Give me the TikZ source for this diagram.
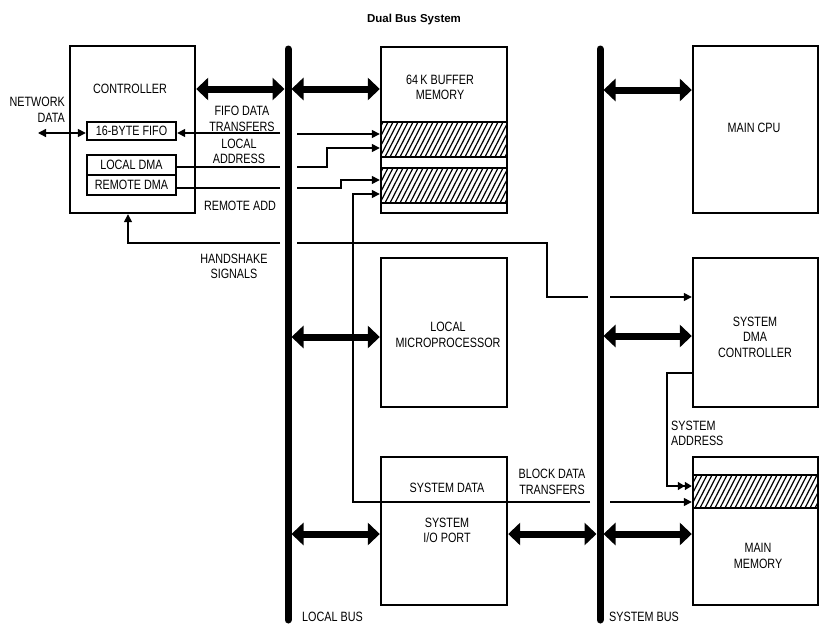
\documentclass[tikz,border=0pt]{standalone}
\usepackage{fontspec}
\newfontfamily\cnd[FakeStretch=0.8]{Liberation Sans}
\newfontfamily\ttl{Liberation Sans}
\usetikzlibrary{arrows.meta}
\begin{document}
\begin{tikzpicture}[x=1pt,y=-1pt,
  box/.style={draw, line width=2.4pt, inner sep=0pt},
  lbl/.style={font=\cnd\fontsize{13.5}{15.5}\selectfont, inner sep=0pt, align=center},
  thin/.style={line width=1.4pt},
  arr/.style={thin, -{Triangle[length=8pt,width=8pt]}},
  fat/.style={line width=7pt, {Triangle[length=12pt,width=22pt]}-{Triangle[length=12pt,width=22pt]}},
  bus/.style={line width=7pt, line cap=round},
  hatch/.style={line width=1.2pt}
]
\fill[white] (0,0) rectangle (825,624);
\useasboundingbox (0,0) rectangle (825,624);

% title
\node[font=\ttl\bfseries\fontsize{11.5}{14}\selectfont] (title) at (414,20) {Dual Bus System};

% hatching
\begin{scope}
\clip (381,122) rectangle (507,157);
\foreach \x in {330,335,...,510} \draw[hatch] (\x,157) -- ++(18,-35);
\end{scope}
\begin{scope}
\clip (381,168) rectangle (507,203);
\foreach \x in {330,335,...,510} \draw[hatch] (\x,203) -- ++(18,-35);
\end{scope}
\begin{scope}
\clip (693,475) rectangle (818,508);
\foreach \x in {640,645,...,820} \draw[hatch] (\x,508) -- ++(17,-33);
\end{scope}

% boxes
\node[box, minimum width=125pt, minimum height=167pt] (ctrl) at (132.5,129.5) {};
\node[box, minimum width=89pt, minimum height=18pt] (fifo) at (131.5,131) {};
\node[box, minimum width=89pt, minimum height=20pt] (ldma) at (131.5,165) {};
\node[box, minimum width=89pt, minimum height=20pt] (rdma) at (131.5,185) {};
\node[box, minimum width=126pt, minimum height=166pt] (buf) at (444,130) {};
\node[box, minimum width=126pt, minimum height=35pt] (h1) at (444,139.5) {};
\node[box, minimum width=126pt, minimum height=35pt] (h2) at (444,185.5) {};
\node[box, minimum width=126pt, minimum height=149pt] (micro) at (444,332.5) {};
\node[box, minimum width=126pt, minimum height=148pt] (io) at (444,531) {};
\node[box, minimum width=125pt, minimum height=167pt] (cpu) at (755.5,129.5) {};
\node[box, minimum width=125pt, minimum height=149pt] (dma) at (755.5,332.5) {};
\node[box, minimum width=125pt, minimum height=148pt] (mem) at (755.5,531) {};
\node[box, minimum width=125pt, minimum height=33pt] (h3) at (755.5,491.5) {};

% buses
\coordinate (lbt) at (288,49); \coordinate (lbb) at (288,620);
\coordinate (sbt) at (600,49); \coordinate (sbb) at (600,620);
\draw[bus] (lbt) -- (lbb);
\draw[bus] (sbt) -- (sbb);

% fat bidirectional arrows
\draw[fat] (ctrl.east |- 0,89) -- (284.5,89);
\draw[fat] (291.5,89) -- (buf.west |- 0,89);
\draw[fat] (291.5,337) -- (micro.west |- 0,337);
\draw[fat] (291.5,534) -- (io.west |- 0,534);
\draw[fat] (io.east |- 0,534) -- (596.5,534);
\draw[fat] (603.5,90) -- (cpu.west |- 0,90);
\draw[fat] (603.5,336) -- (dma.west |- 0,336);
\draw[fat] (603.5,534) -- (mem.west |- 0,534);

% thin connectors
\draw[thin, {Triangle[length=8pt,width=8pt]}-{Triangle[length=8pt,width=8pt]}] (38,133) -- (fifo.west |- 0,133);
\draw[arr] (280,133) -- (fifo.east |- 0,133);
\draw[arr] (297,134) -- (buf.west |- 0,134);
\draw[thin] (ldma.east |- 0,167) -- (280,167);
\draw[arr] (297,167) -| (327,148) -- (buf.west |- 0,148);
\draw[thin] (rdma.east |- 0,188) -- (280,188);
\draw[arr] (297,188) -| (341,180) -- (buf.west |- 0,180);
\draw[arr] (590,502) -| (353,194) -- (buf.west |- 0,194);
\draw[arr] (610,502) -- (mem.west |- 0,502);
\draw[arr] (280,243) -| (ctrl.south -| 128,0);
\draw[thin] (297,243) -| (547,297) -- (588,297);
\draw[arr] (610,297) -- (dma.west |- 0,297);
\draw[thin, -{Triangle[length=7pt,width=8pt]Triangle[length=7pt,width=8pt]}] (dma.west |- 0,373) -| (667,486) -- (mem.west |- 0,486);

% labels
\node[lbl] (lctrl) at (130,89) {CONTROLLER};
\node[lbl, anchor=east, align=right] (lnet) at (65,110) {NETWORK\\DATA};
\node[lbl] (lfifo) at (131.5,131) {16-BYTE FIFO};
\node[lbl] (lldma) at (131.5,165) {LOCAL DMA};
\node[lbl] (lrdma) at (131.5,185) {REMOTE DMA};
\node[lbl] (lfdt) at (242,119) {FIFO DATA\\TRANSFERS};
\node[lbl] (lla) at (239,151.5) {LOCAL\\ADDRESS};
\node[lbl] (lra) at (240,206) {REMOTE ADD};
\node[lbl] (lbuf) at (440,87.5) {64\,K BUFFER\\MEMORY};
\node[lbl] (lcpu) at (754,128) {MAIN CPU};
\node[lbl] (lhs) at (234,266.5) {HANDSHAKE\\SIGNALS};
\node[lbl] (lmicro) at (448,335) {LOCAL\\MICROPROCESSOR};
\node[lbl] (ldma2) at (755,337) {SYSTEM\\DMA\\CONTROLLER};
\node[lbl, anchor=west, align=left] (lsa) at (671,433.5) {SYSTEM\\ADDRESS};
\node[lbl] (lsd) at (447,488) {SYSTEM DATA};
\node[lbl] (lbdt) at (552,482) {BLOCK DATA\\TRANSFERS};
\node[lbl] (lio) at (447,530.5) {SYSTEM\\I/O PORT};
\node[lbl] (lmem) at (758,556) {MAIN\\MEMORY};
\node[lbl, anchor=west] (llb) at (302,617) {LOCAL BUS};
\node[lbl, anchor=west] (lsb) at (609,617) {SYSTEM BUS};
\end{tikzpicture}
\end{document}
